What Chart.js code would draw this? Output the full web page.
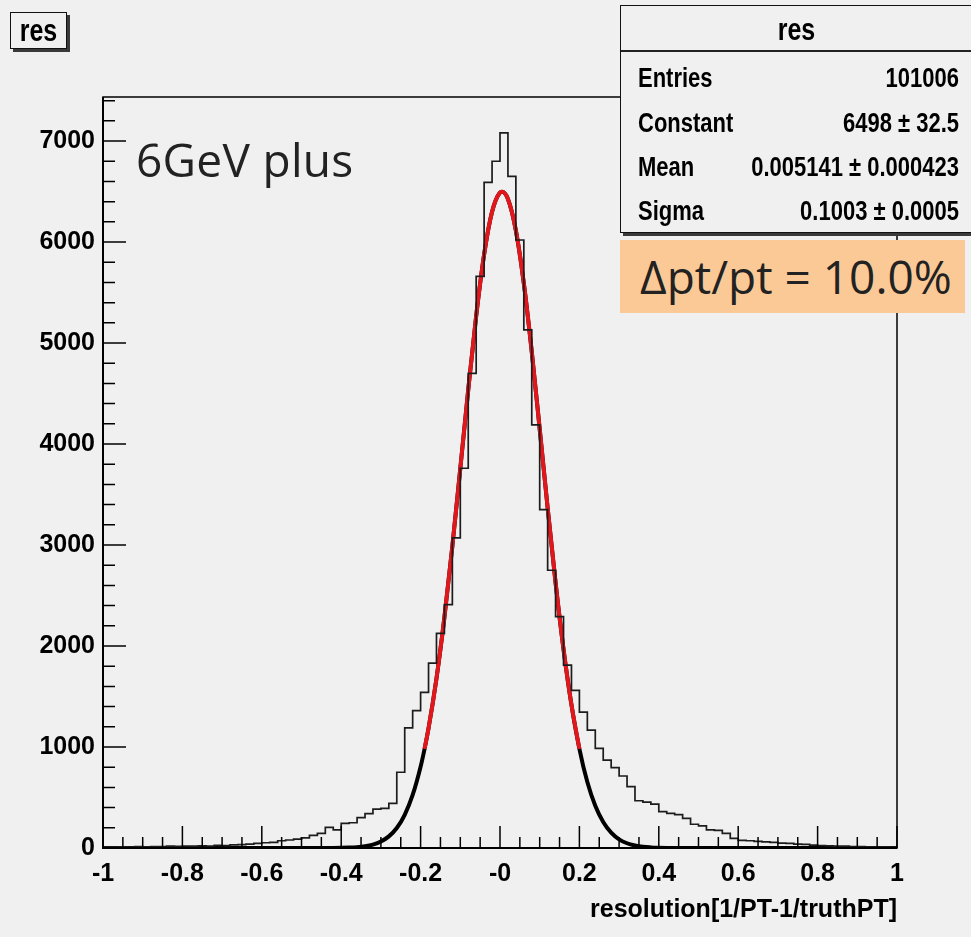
<!DOCTYPE html>
<html>
<head>
<meta charset="utf-8">
<title>res</title>
<script src="https://cdn.jsdelivr.net/npm/chart.js@4.4.1/dist/chart.umd.min.js"></script>
<style>
body{margin:0;background:#f0f0f0;}
#wrap{position:relative;width:971px;height:937px;overflow:hidden;background:#f0f0f0;}
#resChart{position:absolute;left:0;top:0;}
.bold{font-family:"Liberation Sans",Arial,sans-serif;font-weight:bold;color:#000;}
.tall{display:inline-block;transform:scaleY(1.28);}
.box{position:absolute;background:#f0f0f0;border:1.5px solid #111;box-shadow:3px 3px 0 #3a3a3a;}
#titleBox{left:10px;top:12px;width:55px;height:35px;font-size:25px;line-height:35px;text-align:center;}
#stats{left:620px;top:5px;width:380px;height:226px;}
#stats .head{position:absolute;left:0;top:0;width:351px;height:44px;border-bottom:2px solid #222;font-size:25px;line-height:44px;text-align:center;}
#stats .row{position:absolute;left:17px;width:321px;height:40px;font-size:22px;line-height:40px;}
#stats .row .val{position:absolute;right:0;top:0;}
#energy{position:absolute;left:136px;top:131px;font-family:"Open Sans",sans-serif;font-size:46px;letter-spacing:0.3px;color:#222;line-height:56px;}
#reso{position:absolute;left:620px;top:240px;width:345px;height:73px;background:#fbc996;font-family:"Open Sans",sans-serif;font-size:46px;line-height:73px;color:#222;}
#reso span{margin-left:20px;}
</style>
</head>
<body>
<div id="wrap">
<canvas id="resChart" width="971" height="937"></canvas>
<div id="titleBox" class="box bold"><span class="tall">res</span></div>
<div id="stats" class="box bold">
  <div class="head"><span class="tall">res</span></div>
  <div class="row" style="top:52px"><span class="tall">Entries</span><span class="val tall">101006</span></div>
  <div class="row" style="top:97px"><span class="tall">Constant</span><span class="val tall">6498 ± 32.5</span></div>
  <div class="row" style="top:141px"><span class="tall">Mean</span><span class="val tall">0.005141 ± 0.000423</span></div>
  <div class="row" style="top:185px"><span class="tall">Sigma</span><span class="val tall">0.1003 ± 0.0005</span></div>
</div>
<div id="energy">6GeV plus</div>
<div id="reso"><span>Δpt/pt = 10.0%</span></div>
</div>
<script>

// HISTOGRAM: 100 bins of width 0.02 between -1 and 1
const binLow = -1;
const binWidth = 0.02;
const binCounts = [
    10, 8, 12, 10, 14, 12, 15, 14, 18, 16,
    20, 18, 22, 20, 26, 24, 30, 34, 38, 45,
    52, 55, 72, 79, 88, 100, 125, 145, 205, 180,
    244, 250, 300, 340, 385, 393, 442, 750, 1190, 1360,
    1540, 1830, 2125, 2410, 3070, 3760, 4700, 5660, 6590, 6800,
    7080, 6650, 6020, 5130, 4190, 3350, 2750, 2290, 1810, 1560,
    1345, 1168, 987, 871, 795, 713, 607, 468, 455, 435,
    360, 343, 330, 294, 235, 220, 180, 175, 145, 95,
    75, 72, 65, 60, 55, 48, 45, 38, 35, 28,
    25, 22, 18, 18, 15, 14, 12, 10, 12, 9
];

// GAUSSIAN FIT CURVE
const fitX = [-1, -0.6, -0.5, -0.46, -0.42, -0.4, -0.38, -0.36, -0.34, -0.32, -0.3, -0.28, -0.26, -0.24, -0.22, -0.2, -0.19, -0.18,
    -0.16, -0.14, -0.12, -0.1, -0.08, -0.06, -0.04, -0.02, 0, 0.005, 0.02, 0.04, 0.06, 0.08, 0.1, 0.12, 0.14, 0.16, 0.18, 0.2,
    0.22, 0.24, 0.26, 0.28, 0.3, 0.32, 0.34, 0.36, 0.38, 0.4, 0.42, 0.46, 0.5, 0.6, 1];
const fitY = [0, 0, 0, 0.1, 0.8, 1.9, 4.1, 8.6, 17.5, 34, 64, 115, 198, 329, 525, 805, 982, 1186,
    1679, 2285, 2989, 3757, 4538, 5267, 5876, 6299, 6490, 6498, 6426, 6114, 5591, 4913, 4149, 3368, 2627, 1969, 1418, 982,
    653, 418, 257, 152, 86, 47, 25, 12, 6, 2.8, 1.2, 0.2, 0, 0, 0];
const fitRange = [-0.19, 0.2];

// AXES
const xTickValues = [-1, -0.8, -0.6, -0.4, -0.2, 0, 0.2, 0.4, 0.6, 0.8, 1];
const xTickLabels = ["-1", "-0.8", "-0.6", "-0.4", "-0.2", "-0", "0.2", "0.4", "0.6", "0.8", "1"];
const yTickValues = [0, 1000, 2000, 3000, 4000, 5000, 6000, 7000];
const yTickLabels = ["0", "1000", "2000", "3000", "4000", "5000", "6000", "7000"];
const yMax = 7436;
const xTitle = "resolution[1/PT-1/truthPT]";


// ROOT STYLE FRAME + INWARD TICKS
const frameTicks = {

    id: "frameTicks",

    afterDatasetsDraw(chart){

        const {ctx, chartArea: a, scales: {x, y}} = chart;

        ctx.save();
        ctx.strokeStyle = "#000";
        ctx.lineWidth = 1.5;
        ctx.strokeRect(a.left, a.top, a.right - a.left, a.bottom - a.top);

        ctx.beginPath();

        for(let i = 0; i <= 40; i++){
            const px = x.getPixelForValue(-1 + i * 0.05);
            const len = i % 4 === 0 ? 22 : 11;
            ctx.moveTo(px, a.bottom);
            ctx.lineTo(px, a.bottom - len);
        }

        for(let v = 0; v <= yMax; v += 200){
            const py = y.getPixelForValue(v);
            const len = v % 1000 === 0 ? 23 : 12;
            ctx.moveTo(a.left, py);
            ctx.lineTo(a.left + len, py);
        }

        ctx.stroke();

        ctx.lineWidth = 2;
        ctx.beginPath();
        ctx.moveTo(a.left, a.top);
        ctx.lineTo(a.left, a.bottom);
        ctx.lineTo(a.right, a.bottom);
        ctx.stroke();

        ctx.restore();

    }

};


const histPoints = binCounts.map((c, i) => ({x: binLow + i * binWidth, y: c}));
histPoints.push({x: binLow + binCounts.length * binWidth, y: binCounts[binCounts.length - 1]});

const fitPoints = fitX.map((v, i) => ({x: v, y: fitY[i]}));
const fitRed = fitPoints.filter(p => p.x >= fitRange[0] && p.x <= fitRange[1]);

const axisFont = {family: "'Liberation Sans', Arial, sans-serif", weight: "bold", size: 25};


new Chart(

    document.getElementById("resChart"),

    {
        type: "line",
        data: {
            datasets: [
                {
                    label: "res",
                    data: histPoints,
                    stepped: true,
                    borderColor: "#1c1c1c",
                    borderWidth: 1.7,
                    pointRadius: 0,
                    fill: false,
                    order: 0
                },
                {
                    label: "fit",
                    data: fitRed,
                    borderColor: "#e3161b",
                    borderWidth: 4,
                    pointRadius: 0,
                    cubicInterpolationMode: "monotone",
                    fill: false,
                    order: 1
                },
                {
                    label: "fit (full range)",
                    data: fitPoints,
                    borderColor: "#000",
                    borderWidth: 4,
                    pointRadius: 0,
                    cubicInterpolationMode: "monotone",
                    fill: false,
                    order: 2
                }
            ]
        },
        options: {
            responsive: false,
            animation: false,
            layout: {padding: {left: 0, top: 97, right: 74, bottom: 0}},
            plugins: {
                legend: {display: false},
                tooltip: {enabled: false}
            },
            scales: {
                x: {
                    type: "linear",
                    min: -1,
                    max: 1,
                    grid: {display: false, drawTicks: false},
                    border: {display: false},
                    afterBuildTicks: s => { s.ticks = xTickValues.map(v => ({value: v})); },
                    afterFit: s => { s.height = 89; },
                    ticks: {
                        autoSkip: false,
                        maxRotation: 0,
                        padding: 11,
                        color: "#000",
                        font: axisFont,
                        callback: (v, i) => xTickLabels[i]
                    },
                    title: {
                        display: true,
                        text: xTitle,
                        align: "end",
                        color: "#000",
                        font: axisFont,
                        padding: {top: 0, bottom: 12}
                    }
                },
                y: {
                    type: "linear",
                    min: 0,
                    max: yMax,
                    grid: {display: false, drawTicks: false},
                    border: {display: false},
                    afterBuildTicks: s => { s.ticks = yTickValues.map(v => ({value: v})); },
                    afterFit: s => { s.width = 103; },
                    ticks: {
                        padding: 8,
                        color: "#000",
                        font: axisFont,
                        callback: (v, i) => yTickLabels[i]
                    }
                }
            }
        },
        plugins: [frameTicks]
    }

);

</script>
</body>
</html>
